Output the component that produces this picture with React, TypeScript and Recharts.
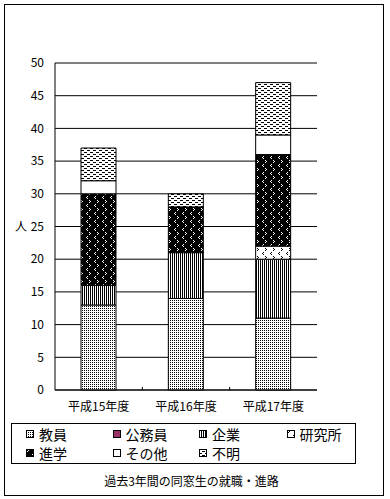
import { BarChart, Bar, XAxis, YAxis, CartesianGrid, ReferenceLine } from "recharts";

const categories = ["平成15年度", "平成16年度", "平成17年度"];
const teachers = [13, 14, 11];
const civilServants = [0, 0, 0];
const companies = [3, 7, 9];
const institutes = [0, 0, 2];
const graduateSchool = [14, 7, 14];
const others = [2, 0, 3];
const unknown = [5, 2, 8];
const yTicks = [0, 5, 10, 15, 20, 25, 30, 35, 40, 45, 50];

const series = [
  { key: "teachers", name: "教員", values: teachers, fill: "url(#p-kyoin)" },
  { key: "civil", name: "公務員", values: civilServants, fill: "#993366" },
  { key: "companies", name: "企業", values: companies, fill: "url(#p-kigyo)" },
  { key: "institutes", name: "研究所", values: institutes, fill: "url(#p-kenkyu)" },
  { key: "grad", name: "進学", values: graduateSchool, fill: "url(#p-shingaku)" },
  { key: "others", name: "その他", values: others, fill: "#ffffff" },
  { key: "unknown", name: "不明", values: unknown, fill: "url(#p-fumei)" },
];

const data = categories.map((name, i) => {
  const row: Record<string, string | number> = { name };
  series.forEach((s) => (row[s.key] = s.values[i]));
  return row;
});

const FONT = '"Noto Sans CJK JP", "Noto Sans", sans-serif';
const W = 390;
const H = 499;
const M = { top: 63, right: 73, bottom: 79, left: 0 };
const Y_W = 55;
const plotW = W - M.left - M.right - Y_W;
const band = plotW / categories.length;

// sparse "< >" marks used by 研究所 / 進学
const marks = [
  [0, 0], [1, 1], [0, 2],
  [6, 4], [5, 5], [6, 6],
];

function Patterns() {
  return (
    <svg width={0} height={0} style={{ position: "absolute" }}>
      <defs>
        <pattern id="p-kyoin" width={2} height={2} patternUnits="userSpaceOnUse">
          <rect width={2} height={2} fill="#fff" />
          <rect width={1} height={1} fill="#000" />
        </pattern>
        <pattern id="p-kigyo" width={2} height={2} patternUnits="userSpaceOnUse">
          <rect width={2} height={2} fill="#fff" />
          <rect width={1} height={2} fill="#000" />
        </pattern>
        <pattern id="p-kenkyu" width={8} height={8} patternUnits="userSpaceOnUse">
          <rect width={8} height={8} fill="#fff" />
          {marks.map(([x, y], i) => (
            <rect key={i} x={x + 1} y={y} width={1} height={1} fill="#000" />
          ))}
        </pattern>
        <pattern id="p-shingaku" width={8} height={8} patternUnits="userSpaceOnUse">
          <rect width={8} height={8} fill="#000" />
          {marks.map(([x, y], i) => (
            <rect key={i} x={x + 1} y={y} width={1} height={1} fill="#fff" />
          ))}
        </pattern>
        <pattern id="p-fumei" width={6} height={4} patternUnits="userSpaceOnUse">
          <rect width={6} height={4} fill="#fff" />
          <rect x={0} y={0} width={3} height={1} fill="#000" />
          <rect x={3} y={2} width={3} height={1} fill="#000" />
        </pattern>
      </defs>
    </svg>
  );
}

function CategoryTick(props: any) {
  const { x, y, payload, index } = props;
  return (
    <g>
      <text x={x} y={y} dy="0.71em" textAnchor="middle" fontSize={12} fontFamily={FONT} fill="#000">
        {payload.value}
      </text>
      {index < categories.length - 1 && (
        <line x1={x + band / 2} x2={x + band / 2} y1={y - 15} y2={y - 12} stroke="#000" />
      )}
    </g>
  );
}

const legendCols = [26, 112.5, 199, 286.5];
const legendRows = [434, 453];

export default function App() {
  return (
    <div style={{ position: "absolute", left: 0, top: 0, width: W, height: H, background: "#fff", fontFamily: FONT }}>
      <Patterns />
      <div
        style={{
          position: "absolute", left: 4, top: 4, width: 380, height: 492,
          border: "1px solid #000", boxSizing: "border-box",
        }}
      />
      <div style={{ position: "absolute", left: 0, top: 0 }}>
        <BarChart width={W} height={H} data={data} margin={M} barSize={35}>
          <CartesianGrid vertical={false} stroke="#000" strokeOpacity={1} />
          <XAxis
            dataKey="name"
            height={30}
            axisLine={{ stroke: "#000" }}
            tickLine={false}
            tickSize={0}
            tickMargin={12}
            interval={0}
            tick={<CategoryTick />}
          />
          <YAxis
            width={Y_W}
            domain={[0, 50]}
            ticks={yTicks}
            interval={0}
            axisLine={{ stroke: "#000" }}
            tickLine={false}
            tickSize={0}
            tickMargin={11}
            tick={{ fontSize: 12, fontFamily: FONT, fill: "#000" }}
            label={{ value: "人", position: "insideLeft", offset: 15, fontSize: 12, fontFamily: FONT, fill: "#000" }}
          />
          <YAxis
            yAxisId="frame"
            orientation="right"
            width={0}
            domain={[0, 50]}
            axisLine={{ stroke: "#808080" }}
            tick={false}
            tickLine={false}
          />
          <ReferenceLine y={50} stroke="#808080" />
          {series.map((s) => (
            <Bar
              key={s.key}
              dataKey={s.key}
              name={s.name}
              stackId="a"
              fill={s.fill}
              stroke="#000"
              strokeWidth={1}
              isAnimationActive={false}
            />
          ))}
        </BarChart>
      </div>
      <div
        style={{
          position: "absolute", left: 11, top: 423, width: 345, height: 41,
          border: "1px solid #000", boxSizing: "border-box",
        }}
      />
      {series.map((s, i) => {
        const cx = legendCols[i % 4];
        const cy = legendRows[Math.floor(i / 4)];
        return (
          <div
            key={s.key}
            style={{
              position: "absolute", left: cx, top: cy - 10, height: 20,
              display: "flex", alignItems: "center", whiteSpace: "nowrap",
            }}
          >
            <svg width={8} height={8} style={{ display: "block" }}>
              <rect x={0.5} y={0.5} width={7} height={7} fill={s.fill} stroke="#000" />
            </svg>
            <span style={{ marginLeft: 5, fontSize: 14, color: "#000" }}>{s.name}</span>
          </div>
        );
      })}
      <div
        style={{
          position: "absolute", left: 0, width: W - 7, top: 472, textAlign: "center",
          fontSize: 12, lineHeight: "18px", color: "#000",
        }}
      >
        過去3年間の同窓生の就職・進路
      </div>
    </div>
  );
}
